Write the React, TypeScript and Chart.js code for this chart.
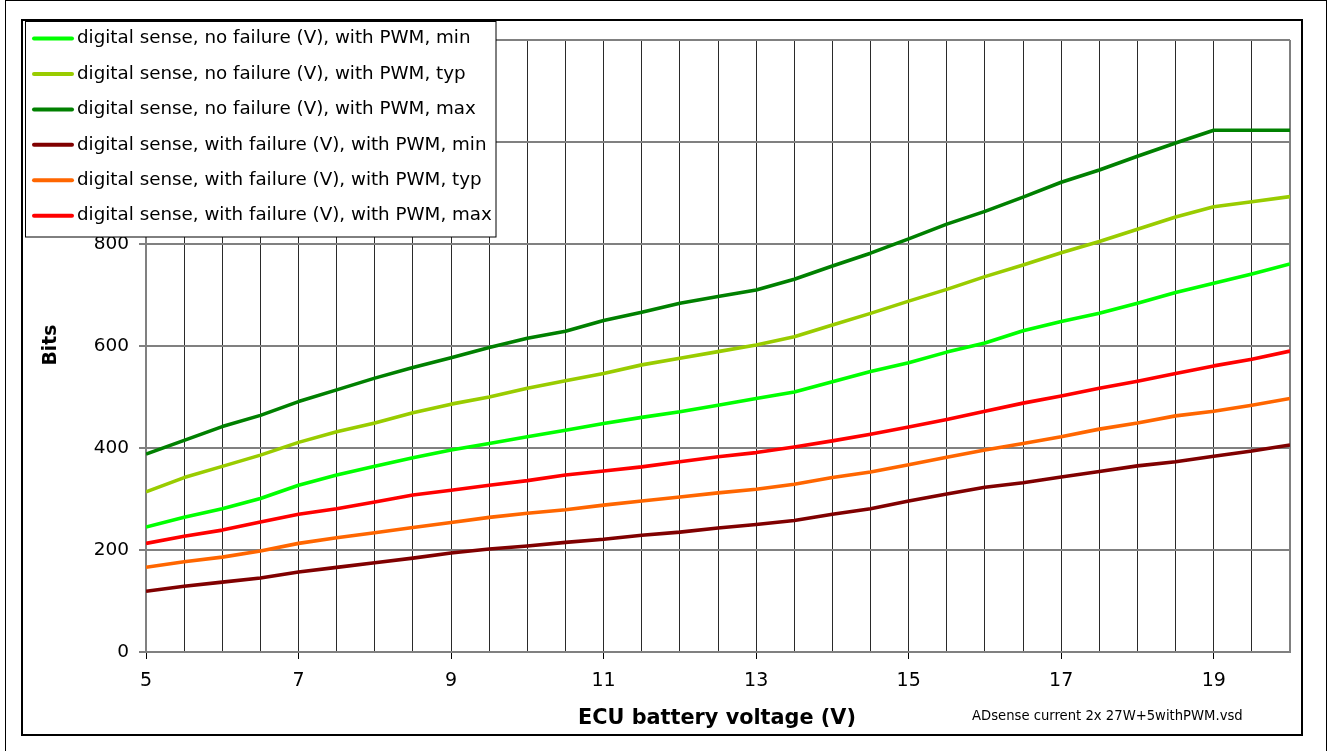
import React, { useEffect, useRef } from "react";
import { Chart, registerables } from "chart.js";

Chart.register(...registerables);

// ECU battery voltage (V)
const voltages = [5, 5.5, 6, 6.5, 7, 7.5, 8, 8.5, 9, 9.5, 10, 10.5, 11, 11.5, 12, 12.5, 13, 13.5, 14, 14.5, 15, 15.5, 16, 16.5, 17, 17.5, 18, 18.5, 19, 19.5, 20];

const noFailureMin = [245, 264, 281, 301, 327, 347, 364, 381, 396, 409, 422, 435, 448, 460, 471, 484, 497, 510, 530, 550, 567, 588, 606, 630, 648, 664, 684, 705, 723, 741, 761];
const noFailureTyp = [314, 342, 364, 386, 411, 432, 449, 469, 486, 500, 517, 532, 546, 563, 576, 589, 602, 618, 641, 664, 688, 711, 736, 759, 783, 805, 829, 853, 873, 883, 893];
const noFailureMax = [388, 415, 442, 464, 491, 514, 537, 558, 577, 597, 615, 629, 650, 666, 684, 697, 710, 731, 757, 782, 810, 839, 864, 892, 921, 945, 972, 998, 1023, 1023, 1023];
const failureMin = [119, 129, 137, 145, 157, 166, 175, 184, 194, 202, 208, 215, 221, 229, 235, 243, 250, 258, 270, 281, 296, 310, 323, 332, 343, 354, 365, 373, 384, 394, 406];
const failureTyp = [166, 177, 186, 198, 213, 224, 234, 244, 254, 264, 272, 279, 288, 296, 304, 312, 319, 329, 342, 353, 367, 382, 396, 409, 422, 437, 449, 463, 472, 484, 497];
const failureMax = [213, 227, 239, 255, 270, 281, 294, 308, 317, 327, 336, 347, 355, 363, 373, 383, 391, 402, 414, 427, 441, 456, 472, 488, 502, 517, 531, 546, 561, 574, 590];

const seriesLabels = [
  "digital sense, no failure (V), with PWM, min",
  "digital sense, no failure (V), with PWM, typ",
  "digital sense, no failure (V), with PWM, max",
  "digital sense, with failure (V), with PWM, min",
  "digital sense, with failure (V), with PWM, typ",
  "digital sense, with failure (V), with PWM, max",
];
const seriesValues = [noFailureMin, noFailureTyp, noFailureMax, failureMin, failureTyp, failureMax];
const seriesColors = ["#00FF00", "#99CC00", "#008000", "#800000", "#FF6600", "#FF0000"];

const labeledXTicks = [5, 7, 9, 11, 13, 15, 17, 19];
const yTickStep = 200;
const xTitle = "ECU battery voltage (V)";
const yTitle = "Bits";
const footnote = "ADsense current 2x 27W+5withPWM.vsd";

const FONT = '"DejaVu Sans", "Liberation Sans", sans-serif';

export default function App() {
  const ref = useRef<HTMLCanvasElement>(null);

  useEffect(() => {
    const canvas = ref.current!;
    const overlay = {
      id: "overlay",
      afterDraw(chart: any) {
        const ctx = chart.ctx as CanvasRenderingContext2D;
        ctx.save();
        // Legend box
        ctx.fillStyle = "#fff";
        ctx.fillRect(25.5, 21.5, 470.5, 215.5);
        ctx.strokeStyle = "#000";
        ctx.lineWidth = 1;
        ctx.strokeRect(25.5, 21.5, 470.5, 215.5);
        chart.data.datasets.forEach((ds: any, i: number) => {
          const y = 38.5 + i * 35.45;
          ctx.strokeStyle = ds.borderColor;
          ctx.lineWidth = 4;
          ctx.lineCap = "round";
          ctx.beginPath();
          ctx.moveTo(34, y);
          ctx.lineTo(72, y);
          ctx.stroke();
          ctx.fillStyle = "#000";
          ctx.font = `18.3px ${FONT}`;
          ctx.textAlign = "left";
          ctx.textBaseline = "middle";
          ctx.fillText(ds.label, 77, y);
        });
        // Axis titles
        ctx.fillStyle = "#000";
        ctx.font = `bold 20.8px ${FONT}`;
        ctx.textAlign = "center";
        ctx.textBaseline = "middle";
        ctx.fillText(xTitle, 717, 719);
        ctx.save();
        ctx.translate(51, 345);
        ctx.rotate(-Math.PI / 2);
        ctx.font = `bold 18.8px ${FONT}`;
        ctx.fillText(yTitle, 0, 0);
        ctx.restore();
        // Footnote
        ctx.font = `13.2px ${FONT}`;
        ctx.textAlign = "left";
        ctx.fillText(footnote, 972, 717);
        ctx.restore();
      },
    };

    const chart = new Chart(canvas, {
      type: "line",
      data: {
        datasets: seriesLabels.map((label, i) => ({
          label,
          data: voltages.map((v, j) => ({ x: v, y: seriesValues[i][j] })),
          borderColor: seriesColors[i],
          backgroundColor: seriesColors[i],
          borderWidth: 3.6,
          pointRadius: 0,
          tension: 0,
          borderJoinStyle: "round" as const,
          fill: false,
        })),
      },
      options: {
        responsive: false,
        animation: false,
        devicePixelRatio: 1,
        layout: { padding: { left: 0, right: 39, top: 40, bottom: 0 } },
        plugins: { legend: { display: false }, tooltip: { enabled: false } },
        scales: {
          x: {
            type: "linear",
            min: 5,
            max: 20,
            afterFit: (s: any) => {
              s.height = 99;
            },
            ticks: {
              stepSize: 0.5,
              autoSkip: false,
              maxRotation: 0,
              padding: 11,
              color: "#000",
              font: { family: FONT, size: 19 },
              callback: (v: any) => (labeledXTicks.includes(Number(v)) ? String(v) : ""),
            },
            grid: {
              color: (c: any) => (c.tick && c.tick.value === 20 ? "#808080" : "#2a2a2a"),
              lineWidth: (c: any) => (c.tick && c.tick.value === 20 ? 2 : 1),
              tickLength: 7,
              tickWidth: 1,
              tickColor: (c: any) => (c.tick && labeledXTicks.includes(c.tick.value) ? "#000" : "rgba(0,0,0,0)"),
            },
            border: { color: "#808080", width: 2 },
          },
          y: {
            min: 0,
            max: 1200,
            afterFit: (s: any) => {
              s.width = 146;
            },
            ticks: {
              stepSize: yTickStep,
              padding: 10,
              color: "#000",
              font: { family: FONT, size: 18.5 },
            },
            grid: {
              color: "#808080",
              lineWidth: 2,
              tickLength: 7,
              tickWidth: 1,
              tickColor: "#000",
            },
            border: { color: "#808080", width: 2 },
          },
        },
      },
      plugins: [overlay],
    });
    return () => chart.destroy();
  }, []);

  return (
    <div style={{ position: "absolute", left: 0, top: 0, width: 1329, height: 751, background: "#fff" }}>
      <div
        style={{
          position: "absolute",
          left: 5,
          top: 0,
          width: 1322,
          height: 751,
          borderLeft: "1px solid #000",
          borderTop: "1px solid #000",
          borderRight: "1px solid #000",
          boxSizing: "border-box",
        }}
      />
      <div
        style={{
          position: "absolute",
          left: 21,
          top: 19,
          width: 1282,
          height: 717,
          border: "2px solid #000",
          boxSizing: "border-box",
        }}
      />
      <canvas
        ref={ref}
        width={1329}
        height={751}
        style={{ position: "absolute", left: 0, top: 0, width: 1329, height: 751 }}
      />
    </div>
  );
}
